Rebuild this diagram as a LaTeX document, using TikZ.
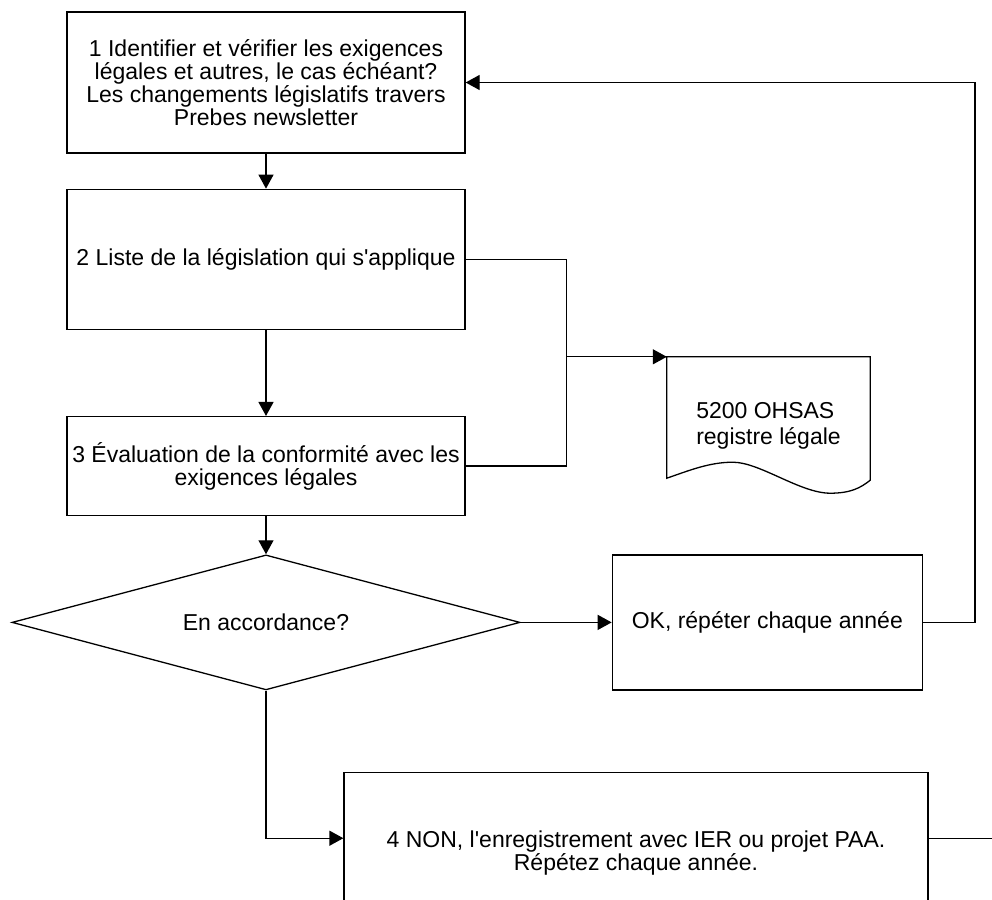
\documentclass[tikz,border=0pt]{standalone}
\usepackage{fontspec}
\setmainfont{Liberation Sans}[Ligatures=TeXOff]
\usetikzlibrary{shapes.geometric, arrows.meta, calc, positioning}

\begin{document}
\begin{tikzpicture}[
 block/.style={draw, line width=1.3pt, align=center, inner sep=4pt,
  font=\fontsize{23pt}{23pt}\selectfont},
 stepbox/.style={block, minimum width=398pt},
 choice/.style={block, diamond, aspect=3.8, inner sep=0pt,
  minimum width=508pt, minimum height=135pt},
 register/.style={align=left, minimum width=203pt, minimum height=138pt,
  font=\fontsize{23pt}{26pt}\selectfont},
 line/.style={line width=1.3pt},
 arrow/.style={line, -{Triangle[length=14pt,width=15pt]}},
 ]
 \useasboundingbox (0,0) rectangle (992pt,-899pt);

 \node[stepbox, minimum height=141pt] (box1) at (266pt,-82.5pt)
 {1 Identifier et vérifier les exigences\\légales et autres, le cas échéant?\\Les changements législatifs travers\\Prebes newsletter};
 \node[below= 35pt of box1, stepbox, minimum height=140pt] (box2)
 {2 Liste de la législation qui s'applique};
 \node[below= 86pt of box2, stepbox, minimum height=99pt] (box3)
 {3 Évaluation de la conformité avec les\\exigences légales};
 \node[below= 38pt of box3, choice] (accord) {En accordance?};
 \node[right= 91pt of accord, block, minimum width=310pt, minimum height=135pt] (okbox)
 {OK, répéter chaque année};
 \node[below= 81pt of accord, xshift=370pt, block, minimum width=584pt,
  minimum height=161pt] (box4)
 {4 NON, l'enregistrement avec IER ou projet PAA.\\Répétez chaque année.};
 \node[register] (registre) at (768.5pt,-426pt) {5200 OHSAS\\registre légale};

 % document outline with wavy bottom
 \draw[line] (registre.north west) -- (registre.north east)
  -- ($(registre.south east)+(0,15pt)$)
  .. controls ($(registre.south east)+(-10pt,7pt)$) and ($(registre.south east)+(-20pt,2pt)$)
  .. ($(registre.south east)+(-40pt,2pt)$)
  .. controls ($(registre.south east)+(-70pt,2pt)$) and ($(registre.south west)+(93pt,33pt)$)
  .. ($(registre.south west)+(66pt,33pt)$)
  .. controls ($(registre.south west)+(43pt,33pt)$) and ($(registre.south west)+(23pt,25pt)$)
  .. ($(registre.south west)+(0,17pt)$) -- cycle;

 \coordinate[right= 101pt of box2.east] (fork);
 \coordinate[right= 52pt of okbox.east] (loopback);
 \coordinate[above= 14.5pt of box4.west] (nonin);
 \coordinate[above= 14.5pt of box4.east] (nonout);
 \coordinate[right= 64pt of nonout] (offpage);

 \draw[arrow] (box1) -- (box2);
 \draw[arrow] (box2) -- (box3);
 \draw[arrow] (box3) -- (accord);
 \draw[arrow] (accord) -- (okbox);
 \draw[line] (box2.east) -- (fork) |- (box3.east);
 \draw[arrow] (fork |- registre.north west) -- (registre.north west);
 \draw[arrow] (okbox.east) -- (loopback) |- (box1.east);
 \draw[arrow] (accord.south) |- (nonin);
 \draw[line] (nonout) -- (offpage);

\end{tikzpicture}
\end{document}
